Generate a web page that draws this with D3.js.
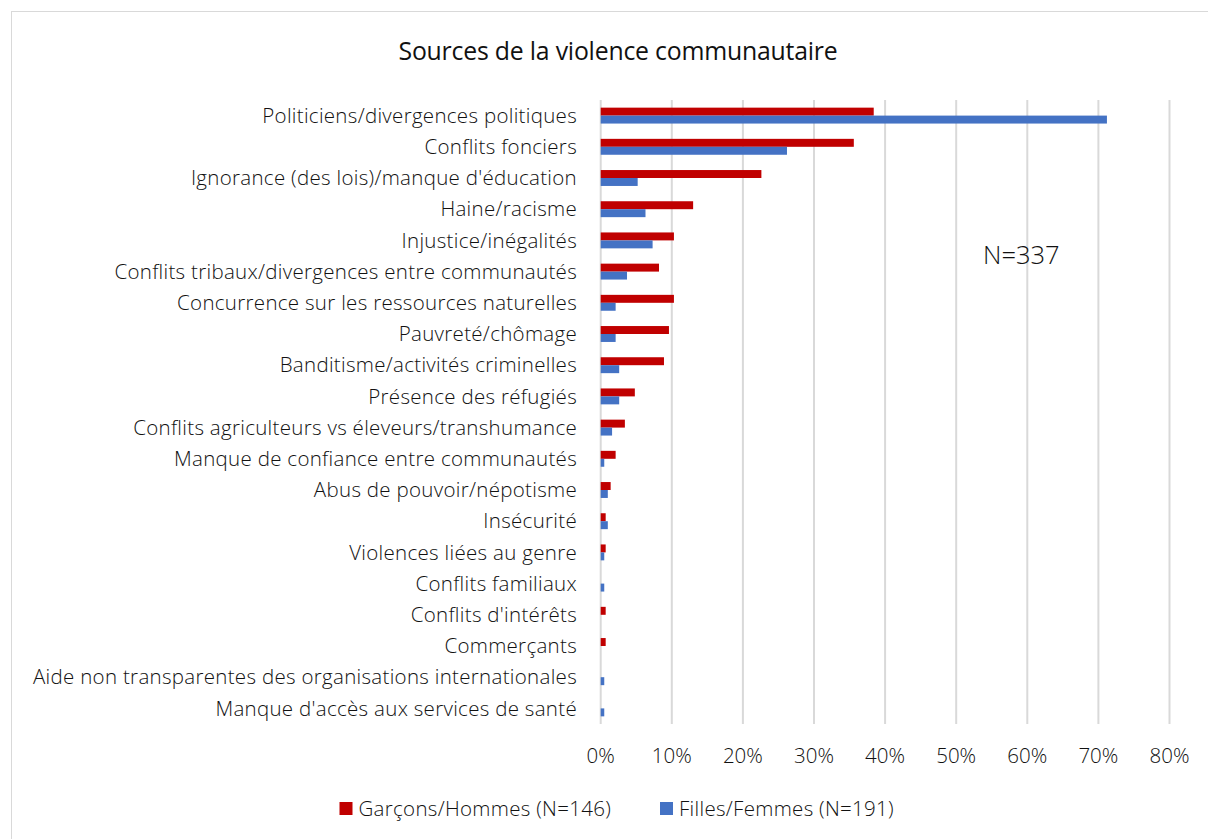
<!DOCTYPE html>
<html>
<head>
<meta charset="utf-8">
<script src="https://cdn.jsdelivr.net/npm/d3@7"></script>
<style>
  body { margin: 0; background: #fff; }
  text { font-family: "Open Sans", "DejaVu Sans", sans-serif; fill: #111; }
</style>
</head>
<body>
<script>
// categories, top to bottom
const categories = [
    "Politiciens/divergences politiques",
    "Conflits fonciers",
    "Ignorance (des lois)/manque d'éducation",
    "Haine/racisme",
    "Injustice/inégalités",
    "Conflits tribaux/divergences entre communautés",
    "Concurrence sur les ressources naturelles",
    "Pauvreté/chômage",
    "Banditisme/activités criminelles",
    "Présence des réfugiés",
    "Conflits agriculteurs vs éleveurs/transhumance",
    "Manque de confiance entre communautés",
    "Abus de pouvoir/népotisme",
    "Insécurité",
    "Violences liées au genre",
    "Conflits familiaux",
    "Conflits d'intérêts",
    "Commerçants",
    "Aide non transparentes des organisations internationales",
    "Manque d'accès aux services de santé"
];
// percent values
const hommes = [38.4, 35.6, 22.6, 13.0, 10.3, 8.2, 10.3, 9.6, 8.9, 4.8, 3.4, 2.1, 1.4, 0.7, 0.7, 0, 0.7, 0.7, 0, 0];
const femmes = [71.2, 26.2, 5.2, 6.3, 7.3, 3.7, 2.1, 2.1, 2.6, 2.6, 1.6, 0.5, 1.0, 1.0, 0.5, 0.5, 0, 0, 0.5, 0.5];
const seriesNames = ["Garçons/Hommes (N=146)", "Filles/Femmes (N=191)"];
const seriesColors = ["#C00000", "#4472C4"];
const xTicks = [0, 10, 20, 30, 40, 50, 60, 70, 80];

const width = 1208, height = 839;
const svg = d3.select("body").append("svg")
    .attr("width", width).attr("height", height);

// chart frame
svg.append("rect")
    .attr("x", 11.5).attr("y", 11.5)
    .attr("width", width + 20).attr("height", height + 20)
    .attr("fill", "none").attr("stroke", "#d9d9d9");

svg.append("text")
    .attr("x", 618).attr("y", 60)
    .attr("text-anchor", "middle")
    .attr("font-size", 24.8)
    .attr("letter-spacing", -0.2)
    .text("Sources de la violence communautaire");

let x = d3.scaleLinear().domain([0, 80]).range([600.7, 1169.5]);
let y = d3.scaleBand().domain(categories).range([100, 724])
    .paddingInner(0.49).paddingOuter(0.245);
let inner = d3.scaleBand().domain([0, 1]).range([0, y.bandwidth()]);

// gridlines
svg.append("g").selectAll("line").data(xTicks)
    .join("line")
    .attr("x1", d => x(d)).attr("x2", d => x(d))
    .attr("y1", 100).attr("y2", 724)
    .attr("stroke", "#d9d9d9").attr("stroke-width", 2);

// bars
let rows = categories.map((c, i) => ({ cat: c, vals: [hommes[i], femmes[i]] }));
let groups = svg.append("g").selectAll("g").data(rows)
    .join("g")
    .attr("transform", d => "translate(0," + y(d.cat) + ")");
groups.selectAll("rect")
    .data(d => d.vals.map((v, s) => ({ v: v, s: s })))
    .join("rect")
    .attr("x", x(0))
    .attr("y", d => inner(d.s))
    .attr("width", d => x(d.v) - x(0))
    .attr("height", inner.bandwidth())
    .attr("fill", d => seriesColors[d.s]);

// category labels
svg.append("g").selectAll("text").data(categories)
    .join("text")
    .attr("x", 577)
    .attr("y", d => y(d) + y.bandwidth() / 2)
    .attr("dy", "0.35em")
    .attr("text-anchor", "end")
    .attr("font-size", 20.5)
    .attr("letter-spacing", 0.3)
    .attr("font-weight", 300)
    .text(d => d);

// x tick labels
svg.append("g").selectAll("text").data(xTicks)
    .join("text")
    .attr("x", d => x(d))
    .attr("y", 763)
    .attr("text-anchor", "middle")
    .attr("font-size", 20.5)
    .attr("font-weight", 300)
    .text(d => d + "%");

svg.append("text")
    .attr("x", 983).attr("y", 264)
    .attr("font-size", 25.5)
    .attr("font-weight", 300)
    .text("N=337");

// legend
let legendX = [339.5, 660];
let legend = svg.append("g").selectAll("g").data(seriesNames)
    .join("g")
    .attr("transform", (d, i) => "translate(" + legendX[i] + ",802)");
legend.append("rect")
    .attr("width", 13).attr("height", 13)
    .attr("fill", (d, i) => seriesColors[i]);
legend.append("text")
    .attr("x", 19).attr("y", 6.5)
    .attr("dy", "0.35em")
    .attr("font-size", 20.5)
    .attr("letter-spacing", 0.3)
    .attr("font-weight", 300)
    .text(d => d);
</script>
</body>
</html>
